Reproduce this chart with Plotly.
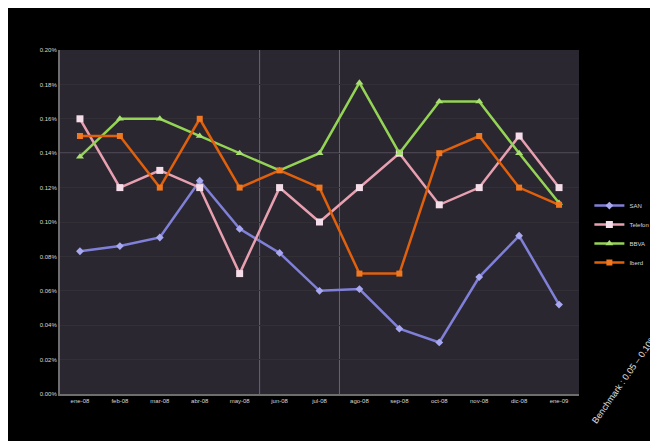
import plotly.graph_objects as go

months = ["ene-08", "feb-08", "mar-08", "abr-08", "may-08", "jun-08", "jul-08",
          "ago-08", "sep-08", "oct-08", "nov-08", "dic-08", "ene-09"]
names = ["SAN", "Telefon", "BBVA", "Iberd"]

# values in percent
blue = [0.083, 0.086, 0.091, 0.124, 0.096, 0.082, 0.060, 0.061, 0.038, 0.030, 0.068, 0.092, 0.052]
pink = [0.160, 0.120, 0.130, 0.120, 0.070, 0.120, 0.100, 0.120, 0.140, 0.110, 0.120, 0.150, 0.120]
green = [0.138, 0.160, 0.160, 0.150, 0.140, 0.130, 0.140, 0.181, 0.140, 0.170, 0.170, 0.140, 0.111]
orange = [0.150, 0.150, 0.120, 0.160, 0.120, 0.130, 0.120, 0.070, 0.070, 0.140, 0.150, 0.120, 0.110]

y_ticks = [0.00, 0.02, 0.04, 0.06, 0.08, 0.10, 0.12, 0.14, 0.16, 0.18, 0.20]

series = [
    (names[0], blue, "#8080d8", "#a8a8f0", "diamond", 6),
    (names[1], pink, "#e8a0b0", "#f4dce8", "square", 7),
    (names[2], green, "#94d454", "#a8e070", "triangle-up", 7),
    (names[3], orange, "#e0600c", "#f07820", "square", 6),
]

fig = go.Figure()
for name, vals, lc, mc, sym, ms in series:
    fig.add_trace(go.Scatter(
        x=months, y=[v / 100 for v in vals], name=name, mode="lines+markers",
        line=dict(color=lc, width=2.5),
        marker=dict(symbol=sym, size=ms, color=mc),
    ))

# highlighted reference lines (background decoration)
fig.add_shape(type="line", xref="paper", x0=0, x1=1, yref="y", y0=0.0014, y1=0.0014,
              line=dict(color="#8a8496", width=1), layer="below")
for xb in [4.5, 6.5]:
    fig.add_shape(type="line", xref="x", x0=xb, x1=xb, yref="paper", y0=0, y1=1,
                  line=dict(color="#6a6474", width=1), layer="below")

fig.add_annotation(text="Benchmark : 0.05 – 0.10%", xref="paper", yref="paper",
                   x=1.159, y=-0.098, showarrow=False, textangle=-55,
                   font=dict(color="#e0e0e0", size=9, family="Liberation Sans"))

fig.update_layout(
    width=658, height=441,
    margin=dict(l=52, r=80, t=42, b=55),
    paper_bgcolor="black", plot_bgcolor="#2a2731",
    font=dict(family="Liberation Sans", color="#d8d8d8", size=6),
    showlegend=True,
    legend=dict(x=1.02, y=0.59, xanchor="left", yanchor="top",
                bgcolor="rgba(0,0,0,0)", font=dict(size=6, color="#d8d8d8"),
                itemwidth=30, tracegroupgap=0),
    xaxis=dict(type="category", range=[-0.5, 12.5], showgrid=False,
               showline=True, linecolor="#6e6e6e", linewidth=2,
               ticks="", tickfont=dict(size=6, color="#d8d8d8"), fixedrange=True),
    yaxis=dict(range=[0, 0.002], tickvals=[t / 100 for t in y_ticks], tickformat=".2%",
               showgrid=True, gridcolor="#332f37", gridwidth=1,
               showline=True, linecolor="#6e6e6e", linewidth=2, zeroline=False,
               ticks="", ticklen=0, tickfont=dict(size=6, color="#d8d8d8")),
)

fig.write_html("out.html")
